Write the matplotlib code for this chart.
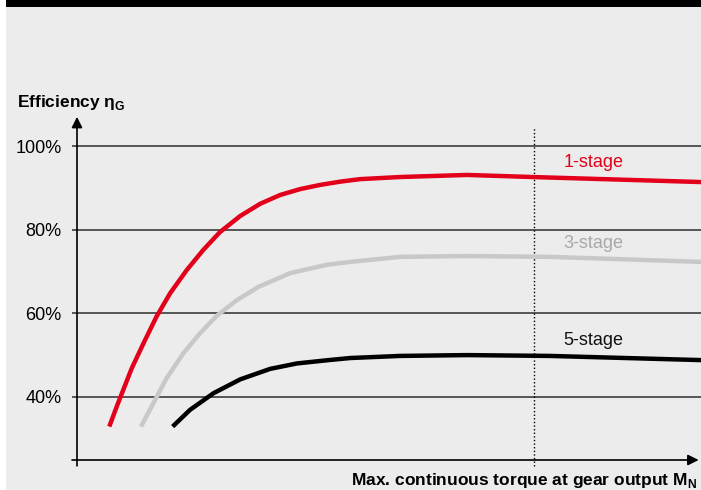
import matplotlib
matplotlib.use('Agg')
import matplotlib.pyplot as plt
from matplotlib.patches import Rectangle

plt.rcParams['font.family'] = ['Liberation Sans', 'DejaVu Sans']
plt.rcParams['mathtext.fontset'] = 'custom'
plt.rcParams['mathtext.bf'] = 'Liberation Sans:bold'
plt.rcParams['mathtext.rm'] = 'Liberation Sans:bold'

# torque (relative units, 0..100) and efficiency (%)
x_1stage = [5.2, 6.4, 8.8, 10.7, 12.8, 15.0, 17.7, 20.3, 23.0, 26.3, 29.5,
            32.7, 35.9, 39.1, 42.4, 45.6, 52.0, 62.8, 73.4, 100.5]
eff_1stage = [32.9, 37.7, 46.8, 52.8, 59.2, 64.8, 70.4, 75.1, 79.4, 83.3, 86.2,
              88.3, 89.7, 90.7, 91.5, 92.1, 92.6, 93.1, 92.6, 91.4]

x_3stage = [10.3, 12.3, 14.4, 17.1, 19.8, 22.5, 25.7, 29.2, 34.3, 40.2,
            44.0, 52.0, 62.8, 76.2, 100.5]
eff_3stage = [32.9, 38.5, 44.4, 50.4, 55.2, 59.4, 63.1, 66.3, 69.6, 71.6,
              72.3, 73.5, 73.7, 73.5, 72.3]

x_5stage = [15.4, 18.2, 22.0, 26.3, 31.1, 35.4, 40.5, 44.0, 52.0, 62.8, 76.2, 100.5]
eff_5stage = [32.9, 36.9, 40.9, 44.2, 46.7, 48.0, 48.8, 49.3, 49.8, 50.0, 49.8, 48.8]

y_ticks = [40, 60, 80, 100]
y_ticklabels = ['40%', '60%', '80%', '100%']
rated_torque = 73.6

RED = '#e2001a'
GREY = '#c8c8c8'

fig = plt.figure(figsize=(7.01, 4.90), dpi=100)
fig.patch.set_facecolor('white')
# grey panel + black title band
fig.patches.append(Rectangle((6 / 701, 0), 1, 1, transform=fig.transFigure,
                             facecolor='#ececec', edgecolor='none', zorder=-10))
fig.patches.append(Rectangle((6 / 701, 483 / 490), 1, 7 / 490, transform=fig.transFigure,
                             facecolor='black', edgecolor='none', zorder=-9))

ax = fig.add_axes([77 / 701, 20 / 490, 624 / 701, 355 / 490])
ax.set_facecolor('none')
ax.set_xlim(0, 100.48)
ax.set_ylim(22.51, 107.44)
for s in ax.spines.values():
    s.set_visible(False)

# grid lines with little stubs left of the axis
ax.hlines(y_ticks, -0.8, 100.5, color='#4a4a4a', lw=1.3, clip_on=False, zorder=1)

ax.set_xticks([])
ax.set_yticks(y_ticks)
ax.set_yticklabels(y_ticklabels, fontsize=13)
ax.tick_params(axis='y', length=0, pad=11)

# rated torque marker
ax.vlines(rated_torque, 23.5, 104.3, color='black', lw=1.0,
          linestyles=(0, (1, 1.6)), clip_on=False, zorder=1)

# axes with arrows
arr = dict(arrowstyle='-|>', color='black', lw=1.2, mutation_scale=16, shrinkA=0, shrinkB=0)
ax.annotate('', xy=(0, 107.0), xytext=(0, 23.5), arrowprops=arr, annotation_clip=False)
ax.annotate('', xy=(100.1, 24.9), xytext=(-0.8, 24.9), arrowprops=arr, annotation_clip=False)

# curves
for xs, ys, c in [(x_1stage, eff_1stage, RED),
                  (x_3stage, eff_3stage, GREY),
                  (x_5stage, eff_5stage, 'black')]:
    ax.plot(xs, ys, color=c, lw=3.2, solid_capstyle='butt', solid_joinstyle='round',
            clip_on=False, zorder=3)

ax.text(78.3, 96.0, '1-stage', color=RED, fontsize=13, va='center')
ax.text(78.3, 76.8, '3-stage', color='#a8a8a8', fontsize=13, va='center')
ax.text(78.3, 53.4, '5-stage', color='#111111', fontsize=13, va='center')

# axis titles
fig.text(17 / 701, (490 - 107) / 490, r'Efficiency η$_{\mathbf{G}}$',
         fontsize=12.5, fontweight='bold', ha='left', va='baseline')
fig.text(697 / 701, (490 - 485) / 490, r'Max. continuous torque at gear output M$_{\mathbf{N}}$',
         fontsize=12.5, fontweight='bold', ha='right', va='baseline')

fig.savefig('out.png', dpi=100, facecolor=fig.get_facecolor())
